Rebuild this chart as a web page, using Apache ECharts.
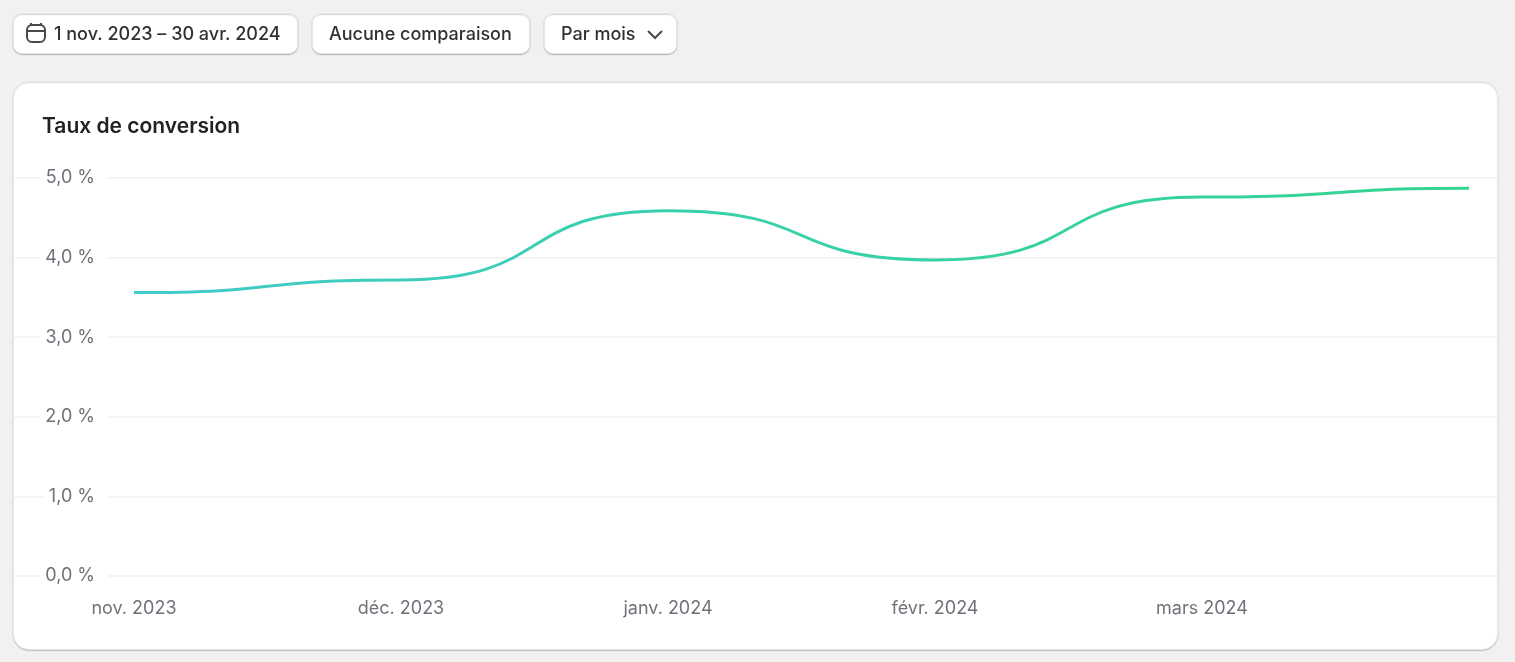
<!DOCTYPE html>
<html><head><meta charset="utf-8">
<style>html,body{margin:0;padding:0;background:#f1f1f1;overflow:hidden}#c{width:1515px;height:662px}</style>
<script src="https://cdn.jsdelivr.net/npm/echarts@6/dist/echarts.min.js"></script>
</head><body><div id="c"></div>
<script>
const months = ['nov. 2023','déc. 2023','janv. 2024','févr. 2024','mars 2024','avr. 2024'];
const monthLabelIdx = [0,1,2,3,4];
const conversion = [3.56,3.72,4.59,3.97,4.76,4.87];
const yTicks = [0,1,2,3,4,5];
const F = 'Inter, "Noto Sans", sans-serif';
const chart = echarts.init(document.getElementById('c'), null, {renderer:'canvas'});

function btn(x,w,label,tx){
  return [
   {type:'rect',z:-5,shape:{x:x,y:13.5,width:w,height:40,r:9},
    style:{fill:'#fff',stroke:'#e6e6e6',lineWidth:1,shadowColor:'rgba(0,0,0,0.2)',shadowBlur:1,shadowOffsetY:1}},
   {type:'text',z:-4,style:{x:tx,y:35,text:label,fill:'#303030',font:'500 18px '+F,textVerticalAlign:'middle'}}
  ];
}
chart.setOption({
  animation:false,
  backgroundColor:'#f1f1f1',
  title:{text:'Taux de conversion',left:42,top:116,padding:0,
    textStyle:{fontFamily:F,fontSize:21,fontWeight:600,color:'#202223'}},
  grid:{left:13,right:17,top:178,bottom:86,containLabel:false},
  xAxis:{type:'value',min:-0.4532,max:5.1086,
    axisLine:{show:false},axisTick:{show:false},splitLine:{show:false},
    axisLabel:{customValues:monthLabelIdx,margin:24,color:'#71717a',fontFamily:F,fontSize:18,
      hideOverlap:false,showMinLabel:true,showMaxLabel:true,
      formatter:v=>months[v]||''}},
  yAxis:{type:'value',min:0,max:5,interval:1,
    axisLine:{show:false},axisTick:{show:false},
    splitLine:{show:true,lineStyle:{color:'#f0f0f0',width:1.5}},
    axisLabel:{margin:-95,align:'right',color:'#71717a',fontFamily:F,fontSize:18,
      backgroundColor:'#fff',padding:[2,13,0,5],
      formatter:v=>v.toFixed(1).replace('.',',')+' %'}},
  series:[{type:'custom',coordinateSystem:'cartesian2d',z:5,silent:true,
    data:conversion.map((v,i)=>[i,v]),encode:{x:0,y:1},clip:false,
    renderItem:(params,api)=>{
      const i=params.dataIndex;
      if(i>=conversion.length-1) return null;
      const a=api.coord([i,conversion[i]]), b=api.coord([i+1,conversion[i+1]]);
      const s=api.coord([0,0])[0], e=api.coord([conversion.length-1,0])[0];
      const d=(b[0]-a[0])*0.58;
      return {type:'bezierCurve',
        shape:{x1:a[0],y1:a[1],cpx1:a[0]+d,cpy1:a[1],cpx2:b[0]-d,cpy2:b[1],x2:b[0],y2:b[1]},
        style:{fill:null,lineWidth:3,lineCap:'butt',
          stroke:new echarts.graphic.LinearGradient(s,0,e,0,[
            {offset:0,color:'#42c9cb'},{offset:0.4,color:'#3ad0ae'},{offset:1,color:'#33d391'}],true)}};
    }}],
  graphic:{elements:[
    {type:'rect',z:-6,shape:{x:13,y:81.5,width:1485,height:568,r:16},
     style:{fill:'#fff',stroke:'#e6e6e6',lineWidth:1,shadowColor:'rgba(0,0,0,0.16)',shadowBlur:1,shadowOffsetY:1}},
    ...btn(13,285,'1 nov. 2023 – 30 avr. 2024',54),
    ...btn(312,218,'Aucune comparaison',329),
    ...btn(544,133,'Par mois',561),
    {type:'rect',z:-4,shape:{x:27,y:25,width:18,height:17,r:5},style:{fill:'none',stroke:'#4a4a4a',lineWidth:2}},
    {type:'line',z:-4,shape:{x1:28,y1:31,x2:44,y2:31},style:{stroke:'#4a4a4a',lineWidth:2}},
    {type:'line',z:-4,shape:{x1:31,y1:23,x2:31,y2:26},style:{stroke:'#4a4a4a',lineWidth:2}},
    {type:'line',z:-4,shape:{x1:41,y1:23,x2:41,y2:26},style:{stroke:'#4a4a4a',lineWidth:2}},
    {type:'polyline',z:-4,shape:{points:[[648,31],[655,38],[662,31]]},style:{fill:'none',stroke:'#4a4a4a',lineWidth:2}}
  ]}
});
</script></body></html>
